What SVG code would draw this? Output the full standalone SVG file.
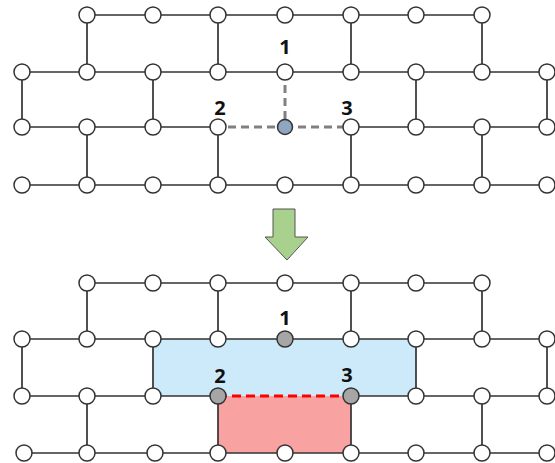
<svg xmlns="http://www.w3.org/2000/svg" width="555" height="463" viewBox="0 0 555 463">
<style>
.e{stroke:#333;stroke-width:1.7;fill:none}
.n{fill:#fff;stroke:#333;stroke-width:1.5}
.g{fill:#a6a6a6}
.b{fill:#8fa6c2}
.dg{stroke:#808080;stroke-width:3;stroke-dasharray:8 5;fill:none}
.dr{stroke:#ff0000;stroke-width:3;stroke-dasharray:9 5;fill:none}
.t{font-family:"Open Sans","Liberation Sans",sans-serif;font-weight:bold;font-size:20px;fill:#111;text-anchor:middle}
</style>
<rect width="555" height="463" fill="#fff"/>
<g id="regions">
<rect x="153" y="339" width="263" height="57" fill="#cdeafb"/>
<rect x="218" y="396" width="133" height="57" fill="#f8a2a2"/>
</g>
<g id="connectors">
<path class="e" d="M87 15H482M22 72H547M22 127H218M351 127H547M22 185H547
M87 15V72M218 15V72M351 15V72M482 15V72
M22 72V127M153 72V127M416 72V127M547 72V127
M87 127V185M218 127V185M351 127V185M482 127V185"/>
<path class="dg" d="M285 72V127H218M285 127H351"/>
<path class="e" d="M87 283H482M22 339H547M22 396H218M351 396H547M22 453H547
M87 283V339M218 283V339M351 283V339M482 283V339
M22 339V396M153 339V396M416 339V396M547 339V396
M87 396V453M218 396V453M351 396V453M482 396V453"/>
<path class="dr" d="M218 396H351"/>
</g>
<g id="arrow">
<path d="M273 209H295V237H308L287 260L265 237H273Z" fill="#a9d18e" stroke="#555" stroke-width="1"/>
</g>
<g id="top-nodes">
<g id="t1-87"><circle class="n" cx="87" cy="15" r="8"/></g>
<g id="t1-153"><circle class="n" cx="153" cy="15" r="8"/></g>
<g id="t1-218"><circle class="n" cx="218" cy="15" r="8"/></g>
<g id="t1-285"><circle class="n" cx="285" cy="15" r="8"/></g>
<g id="t1-351"><circle class="n" cx="351" cy="15" r="8"/></g>
<g id="t1-416"><circle class="n" cx="416" cy="15" r="8"/></g>
<g id="t1-482"><circle class="n" cx="482" cy="15" r="8"/></g>
<g id="t2-22"><circle class="n" cx="22" cy="72" r="8"/></g>
<g id="t2-87"><circle class="n" cx="87" cy="72" r="8"/></g>
<g id="t2-153"><circle class="n" cx="153" cy="72" r="8"/></g>
<g id="t2-218"><circle class="n" cx="218" cy="72" r="8"/></g>
<g id="t2-285"><circle class="n" cx="285" cy="72" r="8"/></g>
<g id="t2-351"><circle class="n" cx="351" cy="72" r="8"/></g>
<g id="t2-416"><circle class="n" cx="416" cy="72" r="8"/></g>
<g id="t2-482"><circle class="n" cx="482" cy="72" r="8"/></g>
<g id="t2-547"><circle class="n" cx="547" cy="72" r="8"/></g>
<g id="t3-22"><circle class="n" cx="22" cy="127" r="8"/></g>
<g id="t3-87"><circle class="n" cx="87" cy="127" r="8"/></g>
<g id="t3-153"><circle class="n" cx="153" cy="127" r="8"/></g>
<g id="t3-218"><circle class="n" cx="218" cy="127" r="8"/></g>
<g id="t3-285"><circle class="n b" cx="285" cy="127" r="7.5"/></g>
<g id="t3-351"><circle class="n" cx="351" cy="127" r="8"/></g>
<g id="t3-416"><circle class="n" cx="416" cy="127" r="8"/></g>
<g id="t3-482"><circle class="n" cx="482" cy="127" r="8"/></g>
<g id="t3-547"><circle class="n" cx="547" cy="127" r="8"/></g>
<g id="t4-22"><circle class="n" cx="22" cy="185" r="8"/></g>
<g id="t4-87"><circle class="n" cx="87" cy="185" r="8"/></g>
<g id="t4-153"><circle class="n" cx="153" cy="185" r="8"/></g>
<g id="t4-218"><circle class="n" cx="218" cy="185" r="8"/></g>
<g id="t4-285"><circle class="n" cx="285" cy="185" r="8"/></g>
<g id="t4-351"><circle class="n" cx="351" cy="185" r="8"/></g>
<g id="t4-416"><circle class="n" cx="416" cy="185" r="8"/></g>
<g id="t4-482"><circle class="n" cx="482" cy="185" r="8"/></g>
<g id="t4-547"><circle class="n" cx="547" cy="185" r="8"/></g>
<text class="t" x="285" y="54">1</text>
<text class="t" x="220" y="115">2</text>
<text class="t" x="347" y="115">3</text>
</g>
<g id="bottom-nodes">
<g id="b1-87"><circle class="n" cx="87" cy="283" r="8"/></g>
<g id="b1-153"><circle class="n" cx="153" cy="283" r="8"/></g>
<g id="b1-218"><circle class="n" cx="218" cy="283" r="8"/></g>
<g id="b1-285"><circle class="n" cx="285" cy="283" r="8"/></g>
<g id="b1-351"><circle class="n" cx="351" cy="283" r="8"/></g>
<g id="b1-416"><circle class="n" cx="416" cy="283" r="8"/></g>
<g id="b1-482"><circle class="n" cx="482" cy="283" r="8"/></g>
<g id="b2-22"><circle class="n" cx="22" cy="339" r="8"/></g>
<g id="b2-87"><circle class="n" cx="87" cy="339" r="8"/></g>
<g id="b2-153"><circle class="n" cx="153" cy="339" r="8"/></g>
<g id="b2-218"><circle class="n" cx="218" cy="339" r="8"/></g>
<g id="b2-285"><circle class="n g" cx="285" cy="339" r="8"/></g>
<g id="b2-351"><circle class="n" cx="351" cy="339" r="8"/></g>
<g id="b2-416"><circle class="n" cx="416" cy="339" r="8"/></g>
<g id="b2-482"><circle class="n" cx="482" cy="339" r="8"/></g>
<g id="b2-547"><circle class="n" cx="547" cy="339" r="8"/></g>
<g id="b3-22"><circle class="n" cx="22" cy="396" r="8"/></g>
<g id="b3-87"><circle class="n" cx="87" cy="396" r="8"/></g>
<g id="b3-153"><circle class="n" cx="153" cy="396" r="8"/></g>
<g id="b3-218"><circle class="n g" cx="218" cy="396" r="8"/></g>
<g id="b3-351"><circle class="n g" cx="351" cy="396" r="8"/></g>
<g id="b3-416"><circle class="n" cx="416" cy="396" r="8"/></g>
<g id="b3-482"><circle class="n" cx="482" cy="396" r="8"/></g>
<g id="b3-547"><circle class="n" cx="547" cy="396" r="8"/></g>
<g id="b4-22"><circle class="n" cx="24" cy="453" r="8"/></g>
<g id="b4-87"><circle class="n" cx="87" cy="453" r="8"/></g>
<g id="b4-153"><circle class="n" cx="155" cy="453" r="8"/></g>
<g id="b4-218"><circle class="n" cx="218" cy="453" r="8"/></g>
<g id="b4-285"><circle class="n" cx="285" cy="453" r="8"/></g>
<g id="b4-351"><circle class="n" cx="351" cy="453" r="8"/></g>
<g id="b4-416"><circle class="n" cx="416" cy="453" r="8"/></g>
<g id="b4-482"><circle class="n" cx="482" cy="453" r="8"/></g>
<g id="b4-547"><circle class="n" cx="547" cy="453" r="8"/></g>
<text class="t" x="285" y="325">1</text>
<text class="t" x="220" y="383">2</text>
<text class="t" x="347" y="382">3</text>
</g>
</svg>
